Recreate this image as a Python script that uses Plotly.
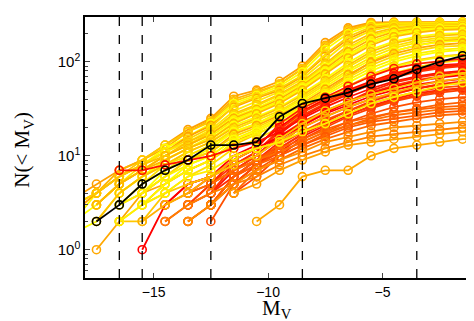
import plotly.graph_objects as go

# absolute magnitude bins (centres)
mv = [-18.5, -17.5, -16.5, -15.5, -14.5, -13.5, -12.5, -11.5, -10.5, -9.5,
      -8.5, -7.5, -6.5, -5.5, -4.5, -3.5, -2.5, -1.5, -0.5]
N = None

# cumulative counts N(<Mv) for each realisation
top_band = [
    [3.5, 5, 7, 9, 13, 19, 25, 43, 50, 62, 90, 160, 230, 262, 265, 265, 265, 266, 266],
    [3, 4, 7, 9, 12, 18, 24, 40, 48, 58, 85, 150, 220, 255, 260, 262, 262, 263, 263],
    [3, 4, 6, 9, 13, 18, 23, 38, 46, 58, 84, 145, 215, 250, 258, 260, 261, 262, 262],
    [2, 4, 6, 8, 12, 16, 22, 36, 44, 55, 78, 135, 200, 245, 255, 258, 258, 260, 260],
    [2.5, 4, 6, 8, 11, 16, 21, 33, 41, 50, 70, 115, 175, 225, 245, 250, 252, 253, 254],
    [3, 4, 6, 8, 11, 15, 20, 34, 42, 52, 72, 120, 185, 235, 250, 252, 254, 255, 255],
    [N, 3, 5, 8, 11, 14, 19, 30, 38, 48, 66, 105, 165, 215, 240, 248, 250, 250, 251],
    [N, 4, 6, 8, 10, 14, 18, 28, 35, 45, 62, 95, 150, 200, 230, 240, 245, 247, 248],
    [N, 3, 5, 7, 10, 13, 18, 27, 34, 44, 60, 92, 140, 190, 222, 236, 242, 245, 246],
    [2, 3, 5, 7, 10, 13, 17, 26, 32, 42, 58, 88, 135, 185, 215, 230, 238, 240, 241],
    [N, 3, 5, 7, 10, 13, 17, 25, 31, 40, 56, 84, 128, 175, 208, 225, 234, 237, 238],
    [N, N, 4, 6, 9, 12, 16, 24, 30, 38, 54, 80, 120, 165, 200, 220, 230, 233, 235],
    [N, N, 4, 6, 9, 12, 15, 23, 29, 37, 52, 78, 115, 158, 192, 212, 224, 228, 230],
    [N, 3, 5, 7, 9, 12, 15, 22, 28, 36, 50, 74, 110, 150, 185, 205, 218, 222, 224],
    [1.5, 2, 4, 6, 8, 11, 14, 21, 26, 33, 46, 66, 98, 135, 165, 185, 198, 204, 206],
    [N, 2, 4, 6, 8, 11, 14, 20, 25, 32, 44, 63, 92, 128, 158, 178, 190, 196, 198],
    [N, N, 3, 5, 8, 10, 13, 19, 24, 30, 42, 60, 88, 120, 148, 168, 180, 186, 188],
    [N, N, 3, 5, 7, 10, 13, 18, 22, 29, 40, 57, 82, 112, 140, 160, 172, 178, 180],
    [N, 1, 2, 4, 5, 7, 9, 14, 18, 24, 34, 48, 70, 100, 130, 150, 165, 172, 175],
    [N, N, N, 4, 7, 9, 12, 18, 22, 28, 38, 54, 78, 105, 130, 150, 162, 168, 170],
    [N, N, N, 4, 6, 9, 11, 17, 21, 27, 36, 51, 73, 98, 122, 140, 152, 158, 160],
    [N, N, 3, 4, 6, 9, 11, 16, 20, 26, 35, 48, 68, 92, 115, 132, 145, 150, 152],
    [N, N, 3, 4, 6, 8, 10, 15, 19, 25, 33, 46, 64, 86, 106, 122, 134, 140, 142],
    [N, N, N, 3, 5, 8, 10, 15, 18, 24, 32, 44, 60, 80, 100, 116, 128, 134, 136],
    [N, N, N, 3, 5, 7, 9, 13, 17, 22, 29, 40, 55, 73, 90, 104, 114, 120, 122],
    [N, N, 2, 3, 5, 7, 9, 14, 17, 22, 30, 40, 54, 72, 88, 102, 112, 118, 120],
    [N, N, N, 3, 4, 6, 8, 12, 15, 20, 27, 36, 48, 62, 76, 88, 98, 104, 106],
]
top_colors = ["#FFA000", "#FFB400", "#FFC800", "#FFFF00", "#FFA000", "#FFD000",
              "#FFE800", "#FFC000", "#FFD800", "#FFFF00", "#FFB000", "#FFF000",
              "#FFFF00", "#FFB800", "#FFFF00", "#FFC000", "#FFE000", "#FFE800",
              "#FFA800", "#FFFF00", "#FFA800", "#FFD800", "#FFF000", "#FFFF00",
              "#FFC000", "#FFF400", "#FFE000"]

red_band = [
    [N, N, N, N, N, 4, 5, 9, 12, 22, 32, 42, 55, 70, 85, 95, 102, 108, 110],
    [N, N, N, N, 3, 5, 6, 10, 13, 20, 30, 40, 50, 62, 75, 85, 92, 96, 98],
    [N, N, N, N, 2, 3, 5, 8, 11, 19, 29, 38, 48, 60, 72, 82, 90, 94, 96],
    [N, N, N, N, N, 3, 4, 7, 10, 17, 26, 35, 45, 58, 70, 80, 88, 92, 94],
    [N, N, N, N, N, N, 4, 8, 11, 18, 27, 36, 46, 57, 68, 78, 85, 90, 92],
    [N, N, 7, 7, 8, 9, 10, 12, 14, 18, 25, 33, 42, 52, 62, 70, 76, 80, 82],
    [N, N, N, N, N, N, 4, 6, 8, 13, 21, 29, 38, 49, 60, 68, 74, 78, 80],
    [N, N, N, N, N, 3, 5, 7, 10, 16, 23, 30, 38, 47, 56, 64, 70, 74, 76],
    [N, N, N, N, N, 4, 6, 9, 12, 16, 22, 29, 37, 46, 54, 62, 68, 72, 73],
    [N, N, N, 1, 3, 5, 6, 8, 10, 15, 21, 28, 35, 43, 50, 57, 62, 66, 68],
    [N, N, N, N, N, 2, 3, 6, 9, 12, 17, 23, 30, 38, 45, 52, 58, 62, 64],
    [N, N, N, N, N, N, 3, 6, 9, 14, 20, 26, 33, 40, 46, 52, 57, 60, 62],
    [N, N, N, N, N, N, 5, 7, 9, 13, 18, 24, 30, 36, 42, 48, 53, 56, 58],
    [N, N, N, N, N, N, 3, 5, 8, 11, 16, 21, 27, 34, 40, 46, 50, 53, 55],
    [N, N, N, N, N, N, N, 5, 8, 12, 17, 22, 28, 33, 39, 44, 49, 52, 54],
    [N, N, N, N, N, N, N, 4, 6, 10, 15, 20, 26, 32, 38, 43, 47, 50, 52],
    [N, N, N, N, N, N, 2, 5, 8, 11, 14, 18, 23, 28, 33, 37, 40, 42, 43],
    [N, N, N, N, N, N, 3, 6, 8, 10, 13, 17, 21, 25, 29, 32, 35, 37, 38],
]
red_colors = ["#FF2000", "#FF0000", "#FF3000", "#FF1000", "#FF3000", "#FF1000",
              "#FF2800", "#FF4000", "#FF0000", "#FF0000", "#FF3800", "#FF2800",
              "#FF5000", "#FF2000", "#FF3800", "#FF4000", "#FF5000", "#FF6000"]

low_band = [
    [N, N, N, N, N, N, 3, 6, 9, 12, 15, 19, 23, 26, 29, 31, 33, 34, 35],
    [N, N, N, N, 3, 4, 5, 7, 9, 11, 14, 18, 21, 24, 27, 29, 31, 32, 33],
    [N, N, N, N, N, 2, 3, 5, 7, 10, 13, 16, 20, 23, 25, 27, 29, 30, 31],
    [N, N, N, N, N, N, N, 4, 7, 9, 12, 15, 18, 21, 23, 25, 27, 28, 29],
    [N, N, N, N, N, 2, 3, 5, 7, 9, 11, 14, 16, 18, 20, 21, 22, 23, 23],
    [N, N, N, N, 2, 3, 4, 5, 6, 8, 10, 12, 14, 16, 17, 18, 19, 20, 20],
    [N, N, N, N, N, N, N, 4, 5, 7, 9, 11, 13, 14, 15, 16, 17, 18, 18],
    [N, N, N, N, N, N, N, N, 2, 3, 6, 7, 7, 10, 12, 13, 14, 15, 16],
]
low_colors = ["#FF6000", "#FF7000", "#FF5800", "#FF6800",
              "#FF9000", "#FF8000", "#FFA000", "#FFA800"]

mid_band = [
    [N, N, 2, 2, 4, 5, 6, 8, 10, 15, 22, 30, 38, 45, 52, 60, 70, 76, 78],
    [N, N, N, 2, 3, 4, 6, 9, 12, 14, 20, 26, 33, 40, 47, 55, 62, 67, 70],
    [N, N, 2, 3, 4, 6, 7, 10, 12, 14, 18, 22, 28, 36, 42, 48, 55, 60, 62],
]
mid_colors = ["#FFC800", "#FFB000", "#FFEE00"]

mean_counts = [N, 2, 3, 5, 7, 9, 13, 13, 14, 26, 36, 41, 47, 58, 66, 83, 100, 116, 125]

dashed_mv = [-16.5, -15.5, -12.5, -8.5, -3.5]

y_tickvals = [1, 10, 100]
y_ticktext = ["10<sup>0</sup>", "10<sup>1</sup>", "10<sup>2</sup>"]
x_tickvals = [-15, -10, -5]
x_ticktext = ["\u221215", "\u221210", "\u22125"]

fig = go.Figure()

def add_curve(ys, color):
    fig.add_trace(go.Scatter(
        x=mv, y=ys, mode="lines+markers",
        line=dict(color=color, width=1.8),
        marker=dict(symbol="circle-open", size=8, color=color, line=dict(width=1.6)),
        connectgaps=False, hoverinfo="skip"))

for ys, c in zip(top_band, top_colors):
    add_curve(ys, c)
for ys, c in zip(red_band, red_colors):
    add_curve(ys, c)
for ys, c in zip(low_band, low_colors):
    add_curve(ys, c)
for ys, c in zip(mid_band, mid_colors):
    add_curve(ys, c)
add_curve(mean_counts, "black")

for xv in dashed_mv:
    fig.add_shape(type="line", x0=xv, x1=xv, y0=0, y1=1, xref="x", yref="paper",
                  line=dict(color="black", width=1.3, dash="dash"))

serif = "Liberation Serif, Times New Roman, serif"
# axis titles placed by hand, as in the original figure
fig.add_annotation(text="M<sub>V</sub>", xref="paper", yref="paper", x=0.494, y=-0.06,
                   xanchor="center", yanchor="top", showarrow=False,
                   font=dict(family=serif, size=21, color="black"))
fig.add_annotation(text="N(< M<sub>V</sub>)", xref="paper", yref="paper", x=-0.158, y=0.49,
                   xanchor="center", yanchor="middle", textangle=-90, showarrow=False,
                   font=dict(family=serif, size=21, color="black"))

fig.update_layout(
    width=474, height=321,
    margin=dict(l=77, r=6, t=9, b=51),
    showlegend=False,
    plot_bgcolor="white", paper_bgcolor="white",
    font=dict(family="Liberation Sans, Arial", size=14, color="black"),
)
fig.update_xaxes(
    range=[-18, -1], tickvals=x_tickvals, ticktext=x_ticktext,
    tickfont=dict(size=14),
    ticks="inside", ticklen=5, showline=True, linecolor="black", linewidth=1.5,
    mirror="ticks", showgrid=False, zeroline=False,
)
fig.update_yaxes(
    type="log", range=[-0.301, 2.477], tickvals=y_tickvals, ticktext=y_ticktext,
    tickfont=dict(size=15),
    ticks="inside", ticklen=5, showline=True, linecolor="black", linewidth=1.5,
    mirror="ticks", showgrid=False, zeroline=False,
    minor=dict(ticks="inside", ticklen=3, showgrid=False, dtick="D1"),
)

fig.write_html("out.html")
